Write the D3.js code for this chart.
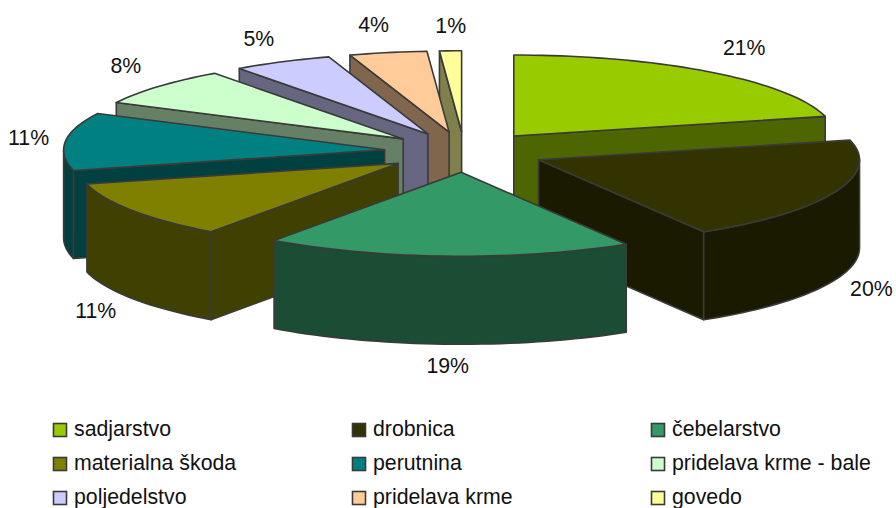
<!DOCTYPE html>
<html>
<head>
<meta charset="utf-8">
<script src="https://cdn.jsdelivr.net/npm/d3@7"></script>
<style>
  html, body { margin: 0; padding: 0; background: #fff; }
  text { font-family: "Liberation Sans", Arial, sans-serif; fill: #111; }
</style>
</head>
<body>
<div id="chart"></div>
<script>
// Data (shares in percent, labels show them rounded)
const categories = ["sadjarstvo", "drobnica", "čebelarstvo", "materialna škoda", "perutnina",
  "pridelava krme - bale", "poljedelstvo", "pridelava krme", "govedo"];
const shares = [21.1, 20.3, 18.5, 11.15, 11.35, 7.6, 5, 3.9, 1.1];
const topColors = ["#99CC00", "#333300", "#339966", "#808000", "#008080",
  "#CCFFCC", "#CCCCFF", "#FFCC99", "#FFFF99"];

const width = 896, height = 508;

// Shape of the tilted pie, the front half is a little deeper than the back
const center = { x: 464.4, y: 152 };
const rx = 321, ryBack = 81, ryFront = 84, depth = 88;
const explode = 0.25;
const strokeColor = "#3a3a3a";
const labelFont = 21.3;

// Hand placed corrections for the percent labels, same order as the slices
const labelNudgeX = [6, 2, 5, -5, -1, -2, -1, -1, 5];
const labelNudgeY = [-2, -7, -4, -7, 5, -1, 0, -3, 0];

const svg = d3.select("#chart")
  .append("svg")
  .attr("width", width)
  .attr("height", height);

const total = d3.sum(shares);
const pct = d3.format(".0%");

const pie = d3.pie().sort(null).value(d => d.value);
const slices = pie(categories.map((name, i) => ({ name, value: shares[i], color: topColors[i] })));

// Projects an angle on the tilted plane
const px = a => rx * Math.sin(a);
const py = a => -(Math.cos(a) < 0 ? ryFront : ryBack) * Math.cos(a);

const line = d3.line().x(d => d[0]).y(d => d[1]);

function rimPoints(a0, a1, ox, oy, dy) {
  const steps = Math.max(2, Math.ceil((a1 - a0) / 0.03));
  return d3.range(steps + 1).map(k => {
    const a = a0 + (a1 - a0) * k / steps;
    return [ox + px(a), oy + py(a) + dy];
  });
}

slices.forEach(s => {
  s.mid = (s.startAngle + s.endAngle) / 2;
  s.ox = center.x + explode * rx * Math.sin(s.mid);
  s.oy = center.y - explode * ryBack * Math.cos(s.mid);
});

// Back slices first so the front ones cover them
const drawOrder = slices.slice().sort((a, b) => a.oy - b.oy);

const pieGroup = svg.append("g");

drawOrder.forEach(s => {
  const c = d3.rgb(s.data.color);
  const sideColor = d3.rgb(c.r / 2, c.g / 2, c.b / 2).formatHex();
  const g = pieGroup.append("g")
    .attr("stroke", strokeColor)
    .attr("stroke-width", 1.6)
    .attr("stroke-linejoin", "round");

  const wall = a => {
    const p = [s.ox + px(a), s.oy + py(a)];
    g.append("path")
      .attr("fill", sideColor)
      .attr("d", line([[s.ox, s.oy], p, [p[0], p[1] + depth], [s.ox, s.oy + depth]]) + "Z");
  };

  // Only the walls that face the viewer
  if (Math.sin(s.startAngle) < 0) wall(s.startAngle);
  if (Math.sin(s.endAngle) > 0) wall(s.endAngle);

  // Outer rim on the front half
  const r0 = Math.max(s.startAngle, Math.PI / 2);
  const r1 = Math.min(s.endAngle, Math.PI * 1.5);
  if (r1 > r0) {
    const upper = rimPoints(r0, r1, s.ox, s.oy, 0);
    const lower = rimPoints(r0, r1, s.ox, s.oy, depth).reverse();
    g.append("path")
      .attr("fill", sideColor)
      .attr("d", line(upper.concat(lower)) + "Z");
  }

  // Top face
  g.append("path")
    .attr("fill", s.data.color)
    .attr("d", line([[s.ox, s.oy]].concat(rimPoints(s.startAngle, s.endAngle, s.ox, s.oy, 0))) + "Z");
});

// Percent labels sit just outside the rim
const softX = v => Math.sign(v) * Math.pow(Math.abs(v), 0.6);
const softY = v => Math.sign(v) * Math.sqrt(Math.abs(v));
svg.append("g")
  .selectAll("text")
  .data(slices)
  .join("text")
  .attr("x", (d, i) => d.ox + px(d.mid) + 36 * softX(Math.sin(d.mid)) + labelNudgeX[i])
  .attr("y", (d, i) => d.oy + py(d.mid) - 25 * softY(Math.cos(d.mid)) + (Math.cos(d.mid) < 0 ? depth : 0) + labelNudgeY[i])
  .attr("dy", "0.35em")
  .attr("text-anchor", "middle")
  .attr("font-size", labelFont)
  .text(d => pct(d.value / total));

// Legend, three columns and three rows
const legendCol = d3.scalePoint().domain([0, 1, 2]).range([53.5, 651.5]);
const legendRow = d3.scalePoint().domain([0, 1, 2]).range([430, 498]);

const legend = svg.append("g")
  .selectAll("g")
  .data(slices)
  .join("g")
  .attr("transform", (d, i) => `translate(${legendCol(i % 3)},${legendRow(Math.floor(i / 3))})`);

legend.append("rect")
  .attr("x", 0)
  .attr("y", -6.5)
  .attr("width", 13)
  .attr("height", 13)
  .attr("fill", d => d.data.color)
  .attr("stroke", strokeColor)
  .attr("stroke-width", 1.6);

legend.append("text")
  .attr("x", 20.5)
  .attr("dy", 5.5)
  .attr("font-size", labelFont)
  .text(d => d.data.name);
</script>
</body>
</html>
